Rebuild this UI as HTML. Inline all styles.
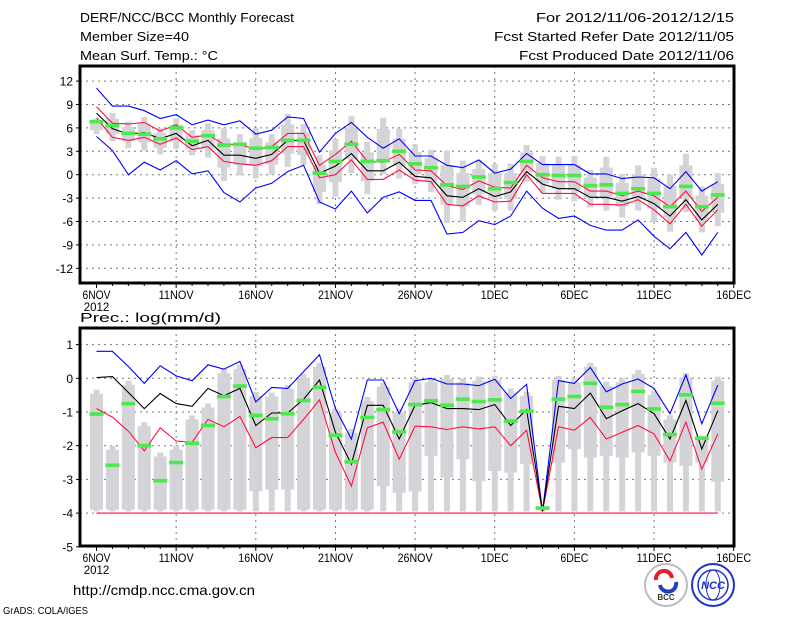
<!DOCTYPE html>
<html><head><meta charset="utf-8"><style>
html,body{margin:0;padding:0;background:#fff;width:800px;height:618px;overflow:hidden}
svg{display:block;font-family:"Liberation Sans",sans-serif}
</style></head><body>
<svg id="chart" width="800" height="618" viewBox="0 0 800 618" xmlns="http://www.w3.org/2000/svg">
<rect width="800" height="618" fill="#fff"/>
<g font-size="13" fill="#000">
<text x="80" y="22" textLength="214" lengthAdjust="spacingAndGlyphs">DERF/NCC/BCC Monthly Forecast</text>
<text x="80" y="41" textLength="109" lengthAdjust="spacingAndGlyphs">Member Size=40</text>
<text x="80" y="60" textLength="138" lengthAdjust="spacingAndGlyphs">Mean Surf. Temp.: °C</text>
<text x="536" y="22" textLength="198" lengthAdjust="spacingAndGlyphs">For 2012/11/06-2012/12/15</text>
<text x="494" y="41" textLength="240" lengthAdjust="spacingAndGlyphs">Fcst Started Refer Date 2012/11/05</text>
<text x="519" y="60" textLength="215" lengthAdjust="spacingAndGlyphs">Fcst Produced Date 2012/11/06</text>
</g>
<g id="top"></g>
<g id="bot"></g>
<text x="80" y="322" font-size="13" textLength="141" lengthAdjust="spacingAndGlyphs">Prec.: log(mm/d)</text>
<text x="73" y="595" font-size="14" textLength="182" lengthAdjust="spacingAndGlyphs">http://cmdp.ncc.cma.gov.cn</text>
<text x="3" y="614" font-size="10" textLength="85" lengthAdjust="spacingAndGlyphs">GrADS: COLA/IGES</text>
<g>
<circle cx="666" cy="585" r="21" fill="#fff" stroke="#bbb" stroke-width="2"/>
<path d="M656 580 a8 8 0 0 1 16 -2" fill="none" stroke="#e0202a" stroke-width="4"/>
<path d="M676 582 a8 8 0 0 1 -16 3" fill="none" stroke="#2040c0" stroke-width="4"/>
<text x="666" y="600" font-size="8" text-anchor="middle" font-weight="bold" fill="#333">BCC</text>
</g>
<g>
<circle cx="713" cy="585" r="21" fill="#fff" stroke="#2030d0" stroke-width="2"/>
<circle cx="713" cy="585" r="15" fill="none" stroke="#2030d0" stroke-width="1.5"/>
<ellipse cx="713" cy="585" rx="7" ry="15" fill="none" stroke="#2030d0" stroke-width="1"/>
<text x="713" y="589" font-size="11" text-anchor="middle" font-weight="bold" fill="#2030d0" font-style="italic">NCC</text>
</g>
</svg>
<script>
// ---- Temperature panel data (days 0..39 from 6NOV) ----
const dayLabels = ["6NOV","11NOV","16NOV","21NOV","26NOV","1DEC","6DEC","11DEC","16DEC"];
const tempTicks = [12,9,6,3,0,-3,-6,-9,-12];
const tempMax = [11.1,8.8,8.8,8.2,7.2,7.7,6.4,7.0,6.4,6.9,5.2,5.7,7.4,7.2,2.9,5.3,6.7,4.8,3.4,4.6,2.4,2.4,1.2,0.9,1.9,0.2,0.7,2.7,1.3,1.3,1.3,0.1,0.1,-0.5,-0.3,-0.4,-1.8,0.4,-2.1,-0.9];
const tempMin = [4.9,3.1,0,1.6,0.6,1.8,0.1,0.5,-2.3,-3.5,-1.7,-1.1,0.4,1.2,-3.5,-4.4,-2.1,-4.9,-2.9,-2.2,-3.3,-3.3,-7.6,-7.4,-5.9,-6.4,-5.3,-2.1,-4.3,-5.6,-5.3,-6.5,-7.1,-7.1,-5.8,-7.9,-9.5,-7.4,-10.3,-7.4];
const tempMean = [7.9,5.9,5.2,5.4,4.6,5.3,3.7,4.4,2.5,2.5,2.1,2.6,4.4,4.4,0.2,1.1,2.7,0.5,0.5,1.6,-0.2,-0.4,-2.7,-2.9,-1.8,-2.8,-2.2,0.4,-1.2,-1.8,-1.8,-2.9,-2.9,-3.4,-2.8,-3.7,-5.3,-3.2,-5.8,-3.8];
const tempUpper = [8.7,6.6,6.5,6.7,5.6,6.4,4.8,5.1,3.9,3.9,3.2,3.6,5.3,5.3,1.2,2.6,4.3,1.7,1.6,2.6,0.6,0.5,-1.4,-1.9,-0.8,-1.6,-1.7,1.2,-0.4,-0.9,-0.9,-2.1,-2.1,-2.7,-2.1,-2.7,-4.1,-2.1,-4.7,-2.9];
const tempLower = [7.3,4.8,4.4,4.8,3.9,4.7,3.2,3.6,1.7,1.4,1.2,1.8,3.6,3.6,-0.4,0,1.9,-0.6,-0.6,0.6,-0.7,-0.9,-3.8,-4.0,-2.7,-3.5,-3.4,0,-2.4,-2.4,-2.4,-3.8,-3.8,-3.9,-3.2,-4.5,-6.3,-3.8,-6.6,-4.5];
const tempObs = [6.8,6.3,5.3,5.2,4.6,6.0,4.3,5.0,3.8,3.9,3.4,3.5,4.4,4.4,0.2,1.7,3.9,1.7,1.8,3.0,1.4,0.9,-1.3,-1.5,-0.3,-1.8,-1.0,1.7,0,-0.1,-0.1,-1.4,-1.3,-2.4,-1.8,-2.4,-4.1,-1.5,-4.1,-2.6];
const tempBoxHi = [7.2,7.9,6.8,7.4,6.0,7.2,5.7,6.6,6.0,5.2,6.0,5.2,7.8,6.5,2.5,4.6,7.5,4.2,7.3,5.9,3.9,3.2,3.1,1.8,1.9,1.4,1.4,3.8,2.4,2.3,2.4,0.6,2.3,0.1,1.2,0.9,0,2.7,-1.5,0.2];
const tempBoxLo = [5.2,4.3,3.4,3.1,2.6,3.3,2.5,2.2,-0.8,-0.1,-0.5,0,1.0,1.2,-3.8,-2.8,0.2,-2.5,0.1,-0.5,-1.2,-2.2,-6.2,-6.0,-3.9,-4.6,-4.6,-0.9,-2.3,-3.2,-3.4,-4.2,-4.6,-5.5,-4.6,-6.1,-7.3,-4.8,-7.4,-6.6];
// ---- Precipitation panel data ----
const precTicks = [1,0,-1,-2,-3,-4,-5];
const precMax = [0.8,0.8,0.35,-0.15,0.37,0.07,-0.07,0.4,0.27,0.5,-0.7,-0.27,-0.3,0.2,0.7,-0.9,-1.8,-0.05,-0.05,-1.05,-0.07,0.0,-0.17,-0.17,-0.22,-0.03,-0.6,-0.18,-3.95,-0.07,-0.15,0.32,-0.4,-0.17,-0.02,-0.3,-1.05,0.1,-1.35,-0.2];
const precMean = [0.02,0.05,-0.42,-0.9,-0.45,-0.75,-0.83,-0.3,-0.52,-0.3,-1.4,-1.03,-1.03,-0.62,-0.05,-1.6,-2.55,-0.8,-0.8,-1.8,-0.8,-0.72,-0.9,-0.9,-0.93,-0.78,-1.4,-0.93,-3.95,-0.83,-0.9,-0.44,-1.2,-0.96,-0.75,-1.05,-1.8,-0.66,-2.1,-0.96];
const precLower = [-0.9,-1.15,-1.57,-2.15,-1.47,-1.86,-1.9,-1.22,-1.44,-1.13,-2.06,-1.76,-1.76,-1.22,-0.64,-2.2,-3.2,-1.47,-1.3,-2.4,-1.42,-1.44,-1.52,-1.44,-1.5,-1.44,-2.0,-1.54,-3.95,-1.44,-1.54,-1.16,-1.8,-1.6,-1.4,-1.65,-2.45,-1.3,-2.7,-1.65];
const precMin = [-4,-4,-4,-4,-4,-4,-4,-4,-4,-4,-4,-4,-4,-4,-4,-4,-4,-4,-4,-4,-4,-4,-4,-4,-4,-4,-4,-4,-4,-4,-4,-4,-4,-4,-4,-4,-4,-4,-4,-4];
const precObs = [-1.06,-2.58,-0.75,-2.0,-3.04,-2.5,-1.93,-1.4,-0.54,-0.23,-1.1,-1.2,-1.05,-0.66,-0.27,-1.69,-2.48,-1.16,-0.93,-1.59,-0.78,-0.67,-0.8,-0.62,-0.69,-0.64,-1.27,-0.98,-3.85,-0.62,-0.54,-0.15,-0.86,-0.78,-0.39,-0.91,-1.67,-0.49,-1.78,-0.74];
const precBoxHi = [-0.34,-2.0,-0.07,-1.3,-2.2,-2.0,-1.1,-0.75,0.27,0.4,-0.4,-0.42,-0.2,0.13,0.46,-0.9,-1.5,-0.55,-0.13,-0.9,0,0,0.1,0,0.05,0.08,-0.3,-0.4,-3.85,0.07,0,0.46,-0.1,0,0.25,-0.37,-1.1,0.15,-1.7,0.05];
const precBoxLo = [-3.9,-3.9,-3.9,-3.9,-3.9,-3.9,-3.9,-3.9,-3.9,-3.9,-3.35,-3.3,-3.3,-3.9,-3.9,-3.9,-3.9,-3.9,-3.2,-3.4,-3.36,-2.3,-2.95,-2.4,-3.05,-2.75,-2.8,-2.55,-3.9,-2.5,-2.1,-2.35,-2.3,-2.35,-2.2,-2.3,-2.5,-2.6,-2.5,-3.07];
const precWhiskLo = -3.95;

const NS = "http://www.w3.org/2000/svg";
const X0 = 96.5, DX = 15.93, L = 80, R = 734;
function xs(d){ return X0 + DX*d; }
function mk(tag, attrs, parent){ const e=document.createElementNS(NS,tag); for(const k in attrs) e.setAttribute(k, attrs[k]); parent.appendChild(e); return e; }

function panel(g, top, bot, ys, ticks, p){
  // grid
  ticks.forEach(t=>{
    const y = ys(t);
    if (y>top+2 && y<bot-2){
      const gl = mk('line',{x1:L,x2:R,y1:y,y2:y,stroke:'#777','stroke-dasharray':'2,4','stroke-width':1},g);
      
      
    }
    const tk = mk('line',{x1:L-4,x2:L,y1:y,y2:y,stroke:'#000'},g);
    
    
    const tx = mk('text',{x:L-7,y:y+4.5,'text-anchor':'end','font-size':12},g);
    
    
    tx.textContent = String(t);
  });
  dayLabels.forEach((lab,i)=>{
    const x = xs(i*5);
    if (i>0 && i<dayLabels.length-1){
      const gl = mk('line',{x1:x,x2:x,y1:top,y2:bot,stroke:'#777','stroke-dasharray':'2,4'},g);
      
      
    }
    const tx = mk('text',{x:x,y:bot+16,'text-anchor':'middle','font-size':11.5,textLength:lab.length*7,lengthAdjust:'spacingAndGlyphs'},g);
    
    
    tx.textContent = lab;
  });
  const yr = mk('text',{x:xs(0),y:bot+28,'text-anchor':'middle','font-size':11.5},g);
  
  
  yr.textContent = '2012';
  for(let d=0; d<=40; d++){
    const x=xs(d);
    const t = mk('line',{x1:x,x2:x,y1:bot,y2:bot+(d%5===0?5:3),stroke:'#000'},g);
    
    
  }
  // boxes
  for(let d=0; d<40; d++){
    const x=xs(d);
    const hi=p.hi[d], lo=p.lo[d];
    const wLo = p.whiskLo!==undefined ? p.whiskLo : lo;
    const th = mk('rect',{x:x-3,y:ys(hi),width:6,height:Math.max(1,ys(wLo)-ys(hi)),fill:'#d4d4d8'},g);
    
    
    let bh, bl;
    if (p.whiskLo!==undefined){ bh = hi-0.12; bl = lo; }
    else { const r=hi-lo; bh = hi-0.2*r; bl = lo+0.25*r; }
    if (bh>bl){
      const bx = mk('rect',{x:x-6.5,y:ys(bh),width:13,height:ys(bl)-ys(bh),fill:'#d4d4d8'},g);
      
      
    }
  }
  // lines
  p.lines.forEach(ln=>{
    const pts = ln.v.map((v,d)=>xs(d).toFixed(1)+','+ys(v).toFixed(1)).join(' ');
    const pl = mk('polyline',{points:pts,fill:'none',stroke:ln.c,'stroke-width':1.1},g);
    
    
  });
  // observed/green bars
  p.obs.forEach((v,d)=>{
    const r = mk('rect',{x:xs(d)-7,y:ys(v)-1.8,width:14,height:3.6,fill:'#4de84d'},g);
    
    
  });
  const fr = mk('rect',{x:L,y:top,width:R-L,height:bot-top,fill:'none',stroke:'#000','stroke-width':3},g);
  
  
}

const gt = document.getElementById('top');


panel(gt, 66, 283, v=>174.7-7.8*v, tempTicks, {
  hi:tempBoxHi, lo:tempBoxLo, obs:tempObs,
  lines:[{v:tempMax,c:'#0000ff',n:'temp-max-line'},{v:tempMin,c:'#0000ff',n:'temp-min-line'},
         {v:tempUpper,c:'#ff1040',n:'temp-upper-line'},{v:tempLower,c:'#ff1040',n:'temp-lower-line'},
         {v:tempMean,c:'#000',n:'temp-mean-line'}]
});
const gb = document.getElementById('bot');


panel(gb, 328, 546, v=>378.3-33.7*v, precTicks, {
  hi:precBoxHi, lo:precBoxLo, whiskLo:precWhiskLo, obs:precObs,
  lines:[{v:precMin,c:'#ff1040',n:'prec-min-line'},{v:precMax,c:'#0000ff',n:'prec-max-line'},
         {v:precLower,c:'#ff1040',n:'prec-lower-line'},{v:precMean,c:'#000',n:'prec-mean-line'}]
});
</script>
</body></html>
